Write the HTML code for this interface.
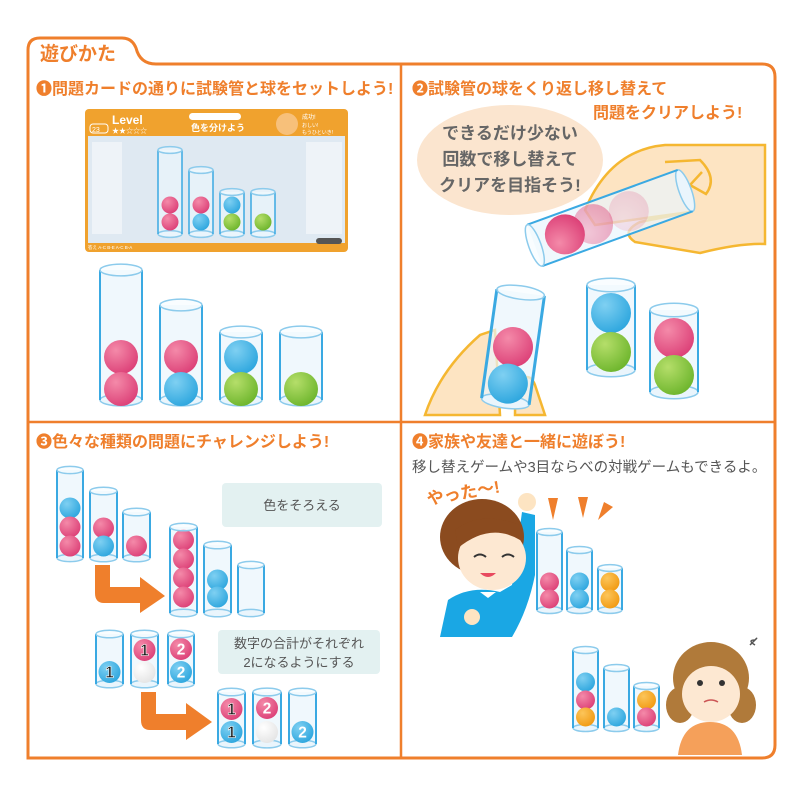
<!DOCTYPE html>
<html><head><meta charset="utf-8"><style>
html,body{margin:0;padding:0;background:#fff;}
svg{display:block}
text{font-family:"Liberation Sans","Noto Sans CJK JP",sans-serif;}
</style></head><body>
<svg id="s" width="800" height="800" viewBox="0 0 800 800" xmlns="http://www.w3.org/2000/svg">
<defs>
<radialGradient id="gP" cx="0.35" cy="0.3" r="0.75"><stop offset="0" stop-color="#f48aa9"/><stop offset="1" stop-color="#dc4077"/></radialGradient>
<radialGradient id="gB" cx="0.35" cy="0.3" r="0.75"><stop offset="0" stop-color="#7fd0f2"/><stop offset="1" stop-color="#2da6de"/></radialGradient>
<radialGradient id="gG" cx="0.35" cy="0.3" r="0.75"><stop offset="0" stop-color="#b5de6a"/><stop offset="1" stop-color="#6db52c"/></radialGradient>
<radialGradient id="gO" cx="0.35" cy="0.3" r="0.75"><stop offset="0" stop-color="#fcc55a"/><stop offset="1" stop-color="#f19a12"/></radialGradient>
<radialGradient id="gW" cx="0.35" cy="0.3" r="0.75"><stop offset="0" stop-color="#ffffff"/><stop offset="1" stop-color="#e4e4e4"/></radialGradient>
</defs>
<path d="M28,758 L28,50 Q28,38 40,38 L122,38 Q132,38 136,48 Q140,64 156,64 L762,64 Q775,64 775,77 L775,745 Q775,758 762,758 Z" fill="#fff" stroke="#ef7f2c" stroke-width="3"/>
<line x1="401" y1="64" x2="401" y2="758" stroke="#ef7f2c" stroke-width="2.5"/>
<line x1="28" y1="422" x2="775" y2="422" stroke="#ef7f2c" stroke-width="2.5"/>
<text x="40" y="60" font-size="19" font-weight="bold" fill="#ef7f2c">遊びかた</text>
<text x="36" y="94" font-size="16" font-weight="bold" fill="#ef7f2c">❶問題カードの通りに試験管と球をセットしよう!</text>
<text x="412" y="94" font-size="16" font-weight="bold" fill="#ef7f2c">❷試験管の球をくり返し移し替えて</text>
<text x="593" y="118" font-size="16" font-weight="bold" fill="#ef7f2c">問題をクリアしよう!</text>
<text x="36" y="447" font-size="16" font-weight="bold" fill="#ef7f2c">❸色々な種類の問題にチャレンジしよう!</text>
<text x="412" y="447" font-size="16" font-weight="bold" fill="#ef7f2c">❹家族や友達と一緒に遊ぼう!</text>
<text x="412" y="472" font-size="14.5" fill="#555">移し替えゲームや3目ならべの対戦ゲームもできるよ。</text>

<rect x="85" y="109" width="263" height="143" rx="4" fill="#f0a22e"/>
<rect x="88" y="136" width="257" height="107" fill="#dfe9f2"/>
<rect x="92" y="142" width="30" height="92" fill="#eef3f8"/><rect x="306" y="142" width="36" height="92" fill="#eef3f8"/>
<text x="112" y="124" font-size="12" font-weight="bold" fill="#fff">Level</text>
<text x="112" y="133" font-size="7" fill="#fff">★★☆☆☆</text>
<rect x="90" y="124" width="18" height="9" rx="3" fill="none" stroke="#fff"/>
<text x="92" y="132" font-size="7" fill="#fff">23</text>
<rect x="189" y="113" width="52" height="7" rx="3.5" fill="#fff"/>
<text x="191" y="131" font-size="9" font-weight="bold" fill="#fff">色を分けよう</text>
<circle cx="287" cy="124" r="11" fill="#f7c07a"/>
<text x="302" y="119" font-size="6" fill="#fff">成功!</text>
<text x="302" y="127" font-size="5" fill="#fff">おしい!</text>
<text x="302" y="134" font-size="5" fill="#fff">もうひといき!</text>
<text x="88" y="249" font-size="4.5" fill="#fff">答え A-C B-E A-C B-A</text>
<rect x="316" y="238" width="26" height="6" rx="3" fill="#555"/>

<path d="M585,210 Q610,150 665,145 L765,145 L765,244 Q740,243 700,253 L635,242 Q620,232 640,222 L690,212 L595,225 Z" fill="#fde4c2" stroke="#f5b731" stroke-width="2.5"/>
<path d="M665,162 L700,160 Q718,178 706,194 L690,185 L702,172" fill="none" stroke="#f5b731" stroke-width="2.5"/>
<ellipse cx="510" cy="160" rx="93" ry="55" fill="#fbe5cf"/>
<text x="510" y="139" font-size="17" font-weight="bold" fill="#666" text-anchor="middle">できるだけ少ない</text>
<text x="510" y="165" font-size="17" font-weight="bold" fill="#666" text-anchor="middle">回数で移し替えて</text>
<text x="510" y="191" font-size="17" font-weight="bold" fill="#666" text-anchor="middle">クリアを目指そう!</text>
<path d="M425,415 Q440,370 480,335 L495,330 L500,415 Z" fill="#fde4c2" stroke="#f5b731" stroke-width="2.5"/>
<path d="M515,415 Q515,390 520,380 Q530,372 535,385 L545,415 Z" fill="#fde4c2" stroke="#f5b731" stroke-width="2.5"/>

<path d="M95,565 L110,565 L110,587 L140,587 L140,577 L165,596 L140,613 L140,603 L104,603 Q95,603 95,593 Z" fill="#ef7f2c"/>
<path d="M141,692 L156,692 L156,714 L186,714 L186,703 L212,722 L186,740 L186,730 L150,730 Q141,730 141,720 Z" fill="#ef7f2c"/>
<rect x="222" y="483" width="160" height="44" rx="4" fill="#e3f1f1"/>
<text x="302" y="510" font-size="13" fill="#555" text-anchor="middle">色をそろえる</text>
<rect x="218" y="630" width="162" height="44" rx="4" fill="#e3f1f1"/>
<text x="299" y="648" font-size="13" fill="#555" text-anchor="middle">数字の合計がそれぞれ</text>
<text x="299" y="667" font-size="13" fill="#555" text-anchor="middle">2になるようにする</text>

<text x="428" y="505" font-size="17" font-weight="bold" fill="#ef7f2c" transform="rotate(-10 428 505)">やった〜!</text>
<path d="M548,498 L558,498 L553,520Z M578,497 L588,497 L583,518Z M604,502 L613,507 L598,520Z" fill="#ef7f2c"/>
<path d="M440,637 L448,600 Q470,585 500,592 L512,585 L522,512 L535,515 L535,575 Q528,610 512,637 Z" fill="#1aa7e4"/>
<circle cx="527" cy="502" r="9" fill="#fde4c2"/>
<ellipse cx="482" cy="537" rx="42" ry="38" fill="#8b4b1f"/>
<ellipse cx="492" cy="558" rx="34" ry="32" fill="#fde8d2"/>
<path d="M455,530 Q480,510 520,525 L520,540 Q490,522 458,548Z" fill="#8b4b1f"/>
<path d="M474,557 q6,-5 12,0 M502,557 q6,-5 12,0" stroke="#333" stroke-width="2" fill="none"/>
<path d="M480,573 q8,8 16,0z" fill="#e84a5f"/>
<circle cx="472" cy="617" r="8" fill="#fde4c2"/>
<path d="M480,592 l8,6 l8,-6z" fill="#fff"/>
<path d="M678,755 Q682,722 710,722 Q738,722 742,755Z" fill="#f5a05a"/>
<ellipse cx="680" cy="705" rx="14" ry="18" fill="#b07a3a"/><ellipse cx="742" cy="705" rx="14" ry="18" fill="#b07a3a"/>
<ellipse cx="711" cy="678" rx="38" ry="36" fill="#b07a3a"/>
<ellipse cx="711" cy="694" rx="29" ry="28" fill="#fde8d2"/>
<path d="M682,680 Q711,650 740,680 L740,668 Q711,640 682,668Z" fill="#b07a3a"/>
<circle cx="700" cy="683" r="3" fill="#333"/><circle cx="722" cy="683" r="3" fill="#333"/>
<path d="M704,702 q7,-4 14,0" stroke="#c55" stroke-width="1.5" fill="none"/>
<path d="M750,645 q10,-10 5,-5 q-8,0 0,5" stroke="#555" fill="none" stroke-width="1.5"/>
<g id="tubes"></g>
</svg>
<script>
var g=document.getElementById('tubes');var h='';
var C={p:'gP',b:'gB',g:'gG',o:'gO',w:'gW'};
function tube(x1,x2,top,bot,bw){var cx=(x1+x2)/2,rx=(x2-x1)/2,ry=rx*0.28;
h+='<rect x="'+x1+'" y="'+top+'" width="'+(x2-x1)+'" height="'+(bot-top)+'" fill="#eaf5fc" fill-opacity="0.7"/>';
h+='<ellipse cx="'+cx+'" cy="'+bot+'" rx="'+rx+'" ry="'+ry+'" fill="#eaf5fc" stroke="#8ccbec" stroke-width="1.5"/>';}
function tubeFront(x1,x2,top,bot,bw){var cx=(x1+x2)/2,rx=(x2-x1)/2,ry=rx*0.28;bw=bw||2;
h+='<line x1="'+x1+'" y1="'+top+'" x2="'+x1+'" y2="'+bot+'" stroke="#3aa9e2" stroke-width="'+bw+'"/>';
h+='<line x1="'+x2+'" y1="'+top+'" x2="'+x2+'" y2="'+bot+'" stroke="#3aa9e2" stroke-width="'+bw+'"/>';
h+='<ellipse cx="'+cx+'" cy="'+top+'" rx="'+rx+'" ry="'+ry+'" fill="#f4fbff" fill-opacity="0.5" stroke="#8ccbec" stroke-width="1.5"/>';}
function ball(x,y,r,c,t,op){h+='<circle cx="'+x+'" cy="'+y+'" r="'+r+'" fill="url(#'+C[c]+')"'+(op?' opacity="'+op+'"':'')+'/>';
if(t)h+='<text x="'+x+'" y="'+(y+r*0.5)+'" font-size="'+(r*1.4)+'" font-weight="bold" text-anchor="middle" fill="'+(t=='1'?'#111':'#fff')+'" stroke="'+(t=='1'?'#fff':'none')+'" stroke-width="0.6">'+t+'</text>';}
function T(x1,x2,top,bot,balls,r,bw){tube(x1,x2,top,bot,bw);var cx=(x1+x2)/2;balls.forEach(function(b){ball(cx,b[0],r,b[1],b[2])});tubeFront(x1,x2,top,bot,bw);}
T(158,182,150,234,[[205,'p'],[222,'p']],8.5,1.5);
T(189,213,170,234,[[205,'p'],[222,'b']],8.5,1.5);
T(220,244,192,234,[[205,'b'],[222,'g']],8.5,1.5);
T(251,275,192,234,[[222,'g']],8.5,1.5);
T(100,142,270,400,[[357,'p'],[389,'p']],17);
T(160,202,305,400,[[357,'p'],[389,'b']],17);
T(220,262,332,400,[[357,'b'],[389,'g']],17);
T(280,322,332,400,[[389,'g']],17);
T(587,635,285,370,[[313,'b'],[352,'g']],20);
T(650,698,310,392,[[338,'p'],[375,'g']],20);
h+='<g transform="translate(513,347) rotate(8)">';
tube(-24,24,-55,55);ball(0,0,20,'p');ball(0,37,20,'b');tubeFront(-24,24,-55,55,3);
h+='</g>';
h+='<g transform="translate(610,218) rotate(-110)">';
tube(-22,22,-80,80);ball(0,20,20,'p',0,0.2);ball(0,-18,20,'p',0,0.45);ball(0,-48,20,'p');tubeFront(-22,22,-80,80);
h+='</g>';
T(57,83,470,558,[[508,'b'],[527,'p'],[546,'p']],10.5);
T(90,117,491,558,[[528,'p'],[546,'b']],10.5);
T(123,150,512,558,[[546,'p']],10.5);
T(170,197,527,613,[[540,'p'],[559,'p'],[578,'p'],[597,'p']],10.5);
T(204,231,545,613,[[580,'b'],[597,'b']],10.5);
T(238,264,565,613,[],10.5);
T(96,123,634,684,[[672,'b','1']],11);
T(131,158,634,684,[[650,'p','1'],[672,'w']],11);
T(168,194,634,684,[[649,'p','2'],[672,'b','2']],11);
T(218,245,692,744,[[709,'p','1'],[732,'b','1']],11);
T(253,281,692,744,[[708,'p','2'],[732,'w']],11);
T(289,316,692,744,[[732,'b','2']],11);
T(537,562,532,610,[[582,'p'],[599,'p']],9.5);
T(567,592,550,610,[[582,'b'],[599,'b']],9.5);
T(598,622,568,610,[[582,'o'],[599,'o']],9.5);
T(573,598,650,728,[[682,'b'],[700,'p'],[717,'o']],9.5);
T(604,629,668,728,[[717,'b']],9.5);
T(634,659,686,728,[[700,'o'],[717,'p']],9.5);
g.innerHTML=h;
</script>
</body></html>
